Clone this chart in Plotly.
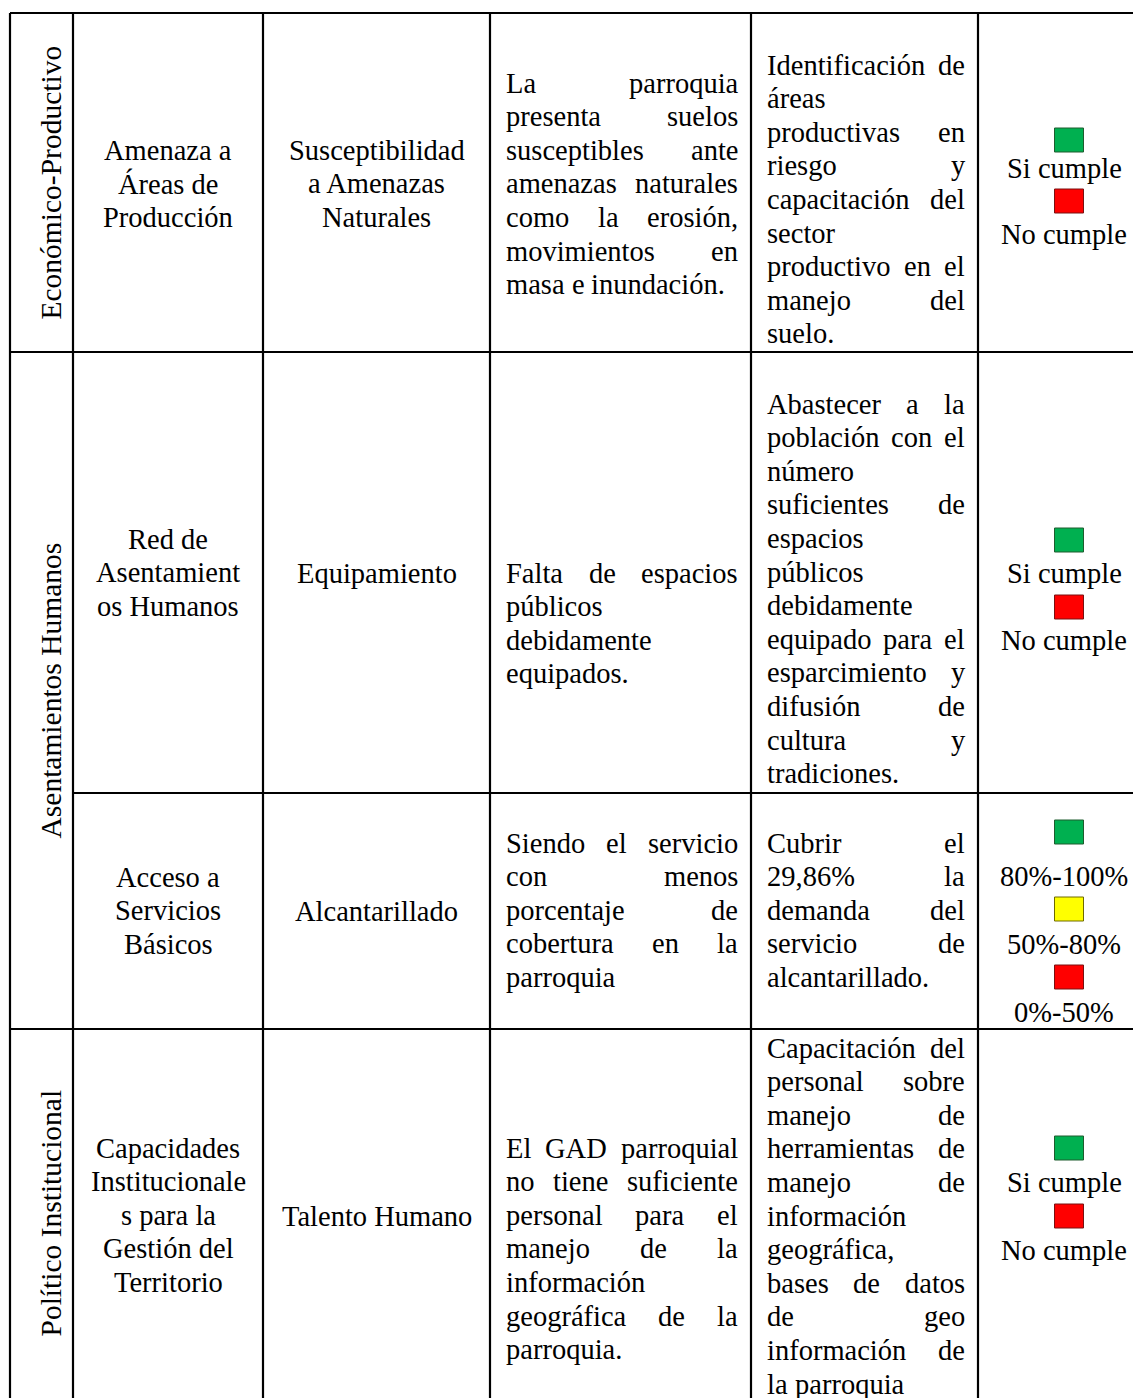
import plotly.graph_objects as go

# ---------------- data ----------------
dimensions = ["Económico-Productivo", "Asentamientos Humanos", "Político Institucional"]
dimension_rows = [[0], [1, 2], [3]]

components = [
    ["Amenaza a", "Áreas de", "Producción"],
    ["Red de", "Asentamient", "os Humanos"],
    ["Acceso a", "Servicios", "Básicos"],
    ["Capacidades", "Institucionale", "s para la", "Gestión del", "Territorio"],
]
variables = [
    ["Susceptibilidad", "a Amenazas", "Naturales"],
    ["Equipamiento"],
    ["Alcantarillado"],
    ["Talento Humano"],
]
problems = [
    ["La parroquia", "presenta suelos", "susceptibles ante", "amenazas naturales",
     "como la erosión,", "movimientos en", "masa e inundación."],
    ["Falta de espacios", "públicos", "debidamente", "equipados."],
    ["Siendo el servicio", "con menos", "porcentaje de", "cobertura en la", "parroquia"],
    ["El GAD parroquial", "no tiene suficiente", "personal para el", "manejo de la",
     "información", "geográfica de la", "parroquia."],
]
goals = [
    ["Identificación de", "áreas", "productivas en", "riesgo y", "capacitación del",
     "sector", "productivo en el", "manejo del", "suelo."],
    ["Abastecer a la", "población con el", "número", "suficientes de", "espacios",
     "públicos", "debidamente", "equipado para el", "esparcimiento y", "difusión de",
     "cultura y", "tradiciones."],
    ["Cubrir el", "29,86% la", "demanda del", "servicio de", "alcantarillado."],
    ["Capacitación del", "personal sobre", "manejo de", "herramientas de", "manejo de",
     "información", "geográfica,", "bases de datos", "de geo", "información de",
     "la parroquia"],
]
semaphore_labels = [
    ["Si cumple", "No cumple"],
    ["Si cumple", "No cumple"],
    ["80%-100%", "50%-80%", "0%-50%"],
    ["Si cumple", "No cumple"],
]
semaphore_colors = [
    ["green", "red"],
    ["green", "red"],
    ["green", "yellow", "red"],
    ["green", "red"],
]

# ---------------- layout / style ----------------
W, H = 1141, 1398
OFF = 8  # page body margin
FONT = "Liberation Serif"
FS = 28.5
FS_DIM = 29.5
LS = 33.6
col_x = [10, 73, 263, 490, 751, 978, 1150]
row_y = [13, 352, 793, 1029, 1420]
PADL, PADR = 15, 14
first_line = {  # row -> first-line centre y for columns 2..5
    0: [150, 150, 83, 65],
    1: [539, 573, 573, 404],
    2: [877, 911, 843, 843],
    3: [1148, 1216, 1148, 1048],
}
# alternating square / label centre positions in the last column
sem_pos = {
    0: [140, 168, 201, 234],
    1: [540, 573, 607, 640],
    2: [832, 876, 909, 944, 977, 1012],
    3: [1148, 1182, 1216, 1250],
}
fill = {"green": "#00B050", "yellow": "#FFFF00", "red": "#FF0000"}
edge = {"green": "#1E5C2E", "yellow": "#6E6A00", "red": "#7A1010"}
dim_x = 50

# Times / Liberation Serif advance widths (1/1000 em)
CW = {' ': 250, 'a': 444, 'b': 500, 'c': 444, 'd': 500, 'e': 444, 'f': 333, 'g': 500,
      'h': 500, 'i': 278, 'j': 278, 'k': 500, 'l': 278, 'm': 778, 'n': 500, 'o': 500,
      'p': 500, 'q': 500, 'r': 333, 's': 389, 't': 278, 'u': 500, 'v': 500, 'w': 722,
      'x': 500, 'y': 500, 'z': 444, 'A': 722, 'B': 667, 'C': 667, 'D': 722, 'E': 611,
      'F': 556, 'G': 722, 'H': 722, 'I': 333, 'J': 389, 'K': 722, 'L': 611, 'M': 889,
      'N': 722, 'O': 722, 'P': 556, 'Q': 722, 'R': 667, 'S': 556, 'T': 611, 'U': 722,
      'V': 722, 'W': 944, 'X': 722, 'Y': 722, 'Z': 611, '%': 833, ',': 250, '.': 250,
      '-': 333}
for d in '0123456789':
    CW[d] = 500
ACC = {'á': 'a', 'é': 'e', 'í': 'i', 'ó': 'o', 'ú': 'u', 'ñ': 'n', 'Á': 'A', 'É': 'E'}


def tw(s):
    return sum(CW.get(ACC.get(c, c), 500) for c in s) / 1000.0 * FS


fig = go.Figure()
fig.add_trace(go.Scatter(x=[OFF, W], y=[OFF, H], mode="markers",
                         marker=dict(opacity=0), hoverinfo="skip", showlegend=False))

anns = []
shapes = []


def txt(x, y, s, xanchor="center", angle=0, size=FS):
    anns.append(dict(x=x, y=y, xref="x", yref="y", text=s, showarrow=False,
                     xanchor=xanchor, yanchor="middle", textangle=angle, borderpad=0,
                     font=dict(family=FONT, size=size, color="black")))


def para(lines, x0, x1, y0, justify=True):
    for i, line in enumerate(lines):
        y = y0 + i * LS
        words = line.split(" ")
        last = i == len(lines) - 1
        widths = [tw(w) for w in words]
        if justify and not last and len(words) > 1:
            gap = (x1 - x0 - sum(widths)) / (len(words) - 1)
            gap = max(gap, tw(" "))
        else:
            gap = tw(" ")
        x = x0
        for w, wd in zip(words, widths):
            txt(x, y, w, xanchor="left")
            x += wd + gap


def centered(lines, xc, y0):
    for i, line in enumerate(lines):
        txt(xc, y0 + i * LS, line)


def line(x0, y0, x1, y1):
    shapes.append(dict(type="line", xref="x", yref="y", x0=x0, y0=y0, x1=x1, y1=y1,
                       line=dict(color="black", width=2.2)))


# grid
for x in col_x:
    line(x, row_y[0], x, row_y[-1])
for r, y in enumerate(row_y[:-1]):
    if r == 2:
        line(col_x[1], y, col_x[-1], y)
    else:
        line(col_x[0], y, col_x[-1], y)

# dimension (rotated) column
for name, rows in zip(dimensions, dimension_rows):
    yc = (row_y[rows[0]] + min(row_y[rows[-1] + 1], H)) / 2
    txt(dim_x, yc, name, angle=-90, size=FS_DIM)

cx = [(col_x[i] + col_x[i + 1]) / 2 for i in range(len(col_x) - 1)]
for r in range(4):
    fl = first_line[r]
    centered(components[r], cx[1], fl[0])
    centered(variables[r], cx[2], fl[1])
    para(problems[r], col_x[3] + PADL, col_x[4] - PADR, fl[2])
    para(goals[r], col_x[4] + PADL, col_x[5] - PADR, fl[3])
    pos = sem_pos[r]
    for k, (lab, col) in enumerate(zip(semaphore_labels[r], semaphore_colors[r])):
        ys = pos[2 * k]
        shapes.append(dict(type="rect", xref="x", yref="y",
                           x0=cx[5] + 5 - 14.5, x1=cx[5] + 5 + 14.5,
                           y0=ys - 12, y1=ys + 12,
                           fillcolor=fill[col], line=dict(color=edge[col], width=1)))
        txt(cx[5], pos[2 * k + 1], lab)

fig.update_layout(
    width=W - OFF, height=H - OFF, margin=dict(l=0, r=0, t=0, b=0),
    paper_bgcolor="white", plot_bgcolor="white",
    xaxis=dict(range=[OFF, W], visible=False, fixedrange=True),
    yaxis=dict(range=[H, OFF], visible=False, fixedrange=True),
    annotations=anns, shapes=shapes, showlegend=False,
)
fig.write_html("out.html")
